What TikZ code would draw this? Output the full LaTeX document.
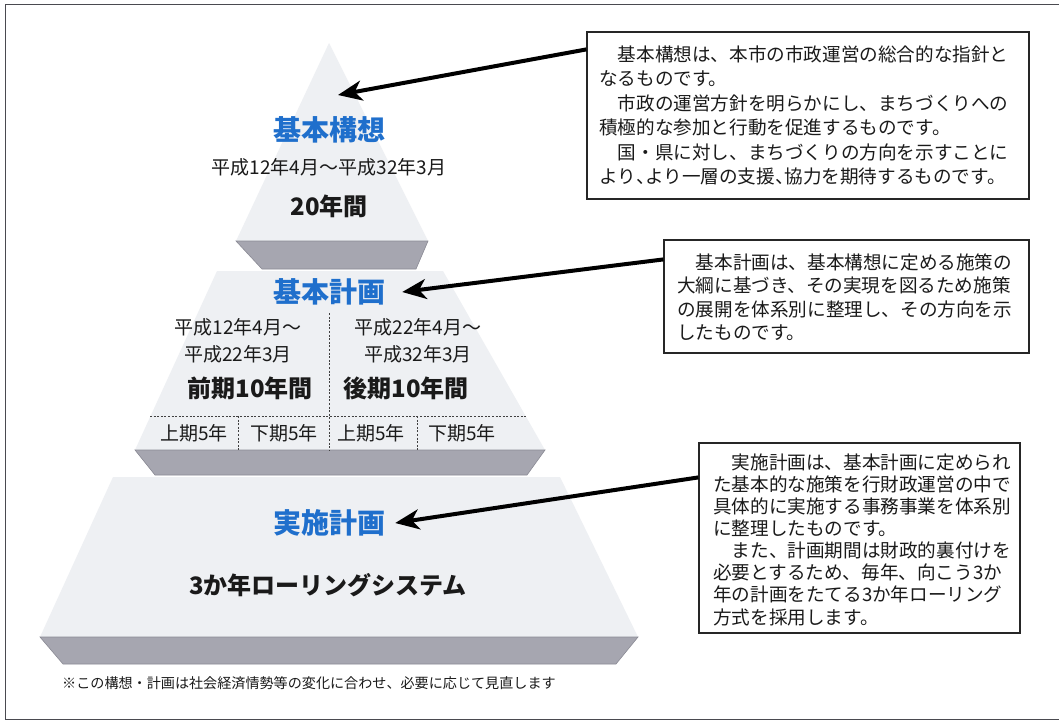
\documentclass[tikz,border=0pt]{standalone}
\usepackage{fontspec}
\setmainfont{Noto Sans CJK JP}
\usetikzlibrary{arrows.meta}
\definecolor{face}{HTML}{EEF0F3}
\definecolor{band}{HTML}{A6A6B0}
\definecolor{bandedge}{HTML}{8A8A94}
\definecolor{titleblue}{HTML}{1F6FCC}
\definecolor{framec}{HTML}{4A4A50}
\definecolor{txt}{HTML}{1A1A1A}
\begin{document}
\begin{tikzpicture}[x=1pt,y=-1pt,
  facestyle/.style={fill=face,draw=none},
  bandstyle/.style={fill=band,draw=bandedge,line width=0.6pt},
  title/.style={inner sep=0pt,text=titleblue,font=\bfseries\fontsize{28}{30}\selectfont},
  big/.style={inner sep=0pt,text=txt,font=\bfseries\fontsize{24}{26}\selectfont},
  date/.style={inner sep=0pt,text=txt,align=center,font=\fontsize{19}{27}\selectfont},
  half/.style={inner sep=0pt,text=txt,font=\fontsize{19}{21}\selectfont},
  dots/.style={draw=black!75,line width=1pt,dash pattern=on 2pt off 1.6pt},
  box/.style={draw=black!85,line width=1.2pt,fill=white,inner sep=0pt},
  boxtext/.style={inner sep=0pt,anchor=north west,align=left,text=txt},
  arr/.style={line width=4pt,draw=black,-{Stealth[length=24pt,width=20pt,inset=7pt]}}
]
\useasboundingbox (0,0) rectangle (1059,721);
\fill[white] (0,0) rectangle (1059,721);
% frame
\draw[framec,line width=1pt] (1059,4) -- (5,4) -- (5,719) -- (1059,719);

% pyramid tiers
\fill[facestyle] (329,43) -- (428,241) -- (236,241) -- cycle;
\draw[bandstyle] (236,241) -- (428,241) -- (416,269) -- (262,269) -- cycle;
\fill[facestyle] (217,271) -- (443,271) -- (545,450) -- (135,450) -- cycle;
\draw[bandstyle] (135,450) -- (545,450) -- (527,475) -- (155,475) -- cycle;
\fill[facestyle] (113,477) -- (560,477) -- (638,637) -- (40,637) -- cycle;
\draw[bandstyle] (40,637) -- (638,637) -- (616,664) -- (63,664) -- cycle;

% dashed dividers
\coordinate (dv1) at (329,313);
\coordinate (dv2) at (329,450);
\coordinate (dh1) at (150,416);
\coordinate (dh2) at (526,416);
\coordinate (dq1) at (238,416);
\coordinate (dq2) at (238,450);
\coordinate (dq3) at (417,416);
\coordinate (dq4) at (417,450);
\draw[dots] (dv1) -- (dv2);
\draw[dots] (dh1) -- (dh2);
\draw[dots] (dq1) -- (dq2);
\draw[dots] (dq3) -- (dq4);

% tier 1 text
\node[title] (t1) at (329,130) {基本構想};
\node[date] (d1) at (329,167) {平成12年4月～平成32年3月};
\node[big] (y1) at (329,206) {20年間};

% tier 2 text
\node[title] (t2) at (329,292) {基本計画};
\node[date] (d2a) at (238,341) {平成12年4月～\\平成22年3月};
\node[date] (d2b) at (418,341) {平成22年4月～\\平成32年3月};
\node[big] (y2a) at (250,388) {前期10年間};
\node[big] (y2b) at (406,388) {後期10年間};
\node[half] (h1) at (194,433) {上期5年};
\node[half] (h2) at (284,433) {下期5年};
\node[half] (h3) at (371,433) {上期5年};
\node[half] (h4) at (462,433) {下期5年};

% tier 3 text
\node[title] (t3) at (329,523) {実施計画};
\node[big] (r3) at (328,585) {3か年ローリングシステム};

% footnote
\node[inner sep=0pt,anchor=west,text=txt,font=\fontsize{14.1}{16}\selectfont] (fn) at (62,683)
  {※この構想・計画は社会経済情勢等の変化に合わせ、必要に応じて見直します};

% explanation boxes
\node[box,minimum width=442pt,minimum height=167pt] (b1) at (808,115.5) {};
\node[boxtext,font=\fontsize{18.6}{24.4}\selectfont] (bt1) at (599,45.5)
  {\hspace*{1em}基本構想は、本市の市政運営の総合的な指針と\\
   なるものです。\\
   \hspace*{1em}市政の運営方針を明らかにし、まちづくりへの\\
   積極的な参加と行動を促進するものです。\\
   \hspace*{1em}国・県に対し、まちづくりの方向を示すことに\\
   より\makebox[0.5em][l]{、}より一層の支援\makebox[0.5em][l]{、}協力を期待するものです。};

\node[box,minimum width=365pt,minimum height=113pt] (b2) at (846.5,296.5) {};
\node[boxtext,font=\fontsize{18.6}{23.3}\selectfont] (bt2) at (677,253.5)
  {\hspace*{1em}基本計画は、基本構想に定める施策の\\
   大綱に基づき、その実現を図るため施策\\
   の展開を体系別に整理し、その方向を示\\
   したものです。};

\node[box,minimum width=321pt,minimum height=190pt] (b3) at (859.5,538) {};
\node[boxtext,font=\fontsize{18.6}{22.1}\selectfont] (bt3) at (713,453.5)
  {\hspace*{1em}実施計画は、基本計画に定められ\\
   た基本的な施策を行財政運営の中で\\
   具体的に実施する事務事業を体系別\\
   に整理したものです。\\
   \hspace*{1em}また、計画期間は財政的裏付けを\\
   必要とするため、毎年、向こう3か\\
   年の計画をたてる3か年ローリング\\
   方式を採用します。};

% arrows
\coordinate (tip1) at (338,95);
\draw[arr] ([yshift=-18pt]b1.north west) -- (tip1);
\draw[arr] ([yshift=-20pt]b2.north west) -- ([xshift=17pt]t2.east);
\draw[arr] ([yshift=-35pt]b3.north west) -- ([xshift=10pt]t3.east);
\end{tikzpicture}
\end{document}
